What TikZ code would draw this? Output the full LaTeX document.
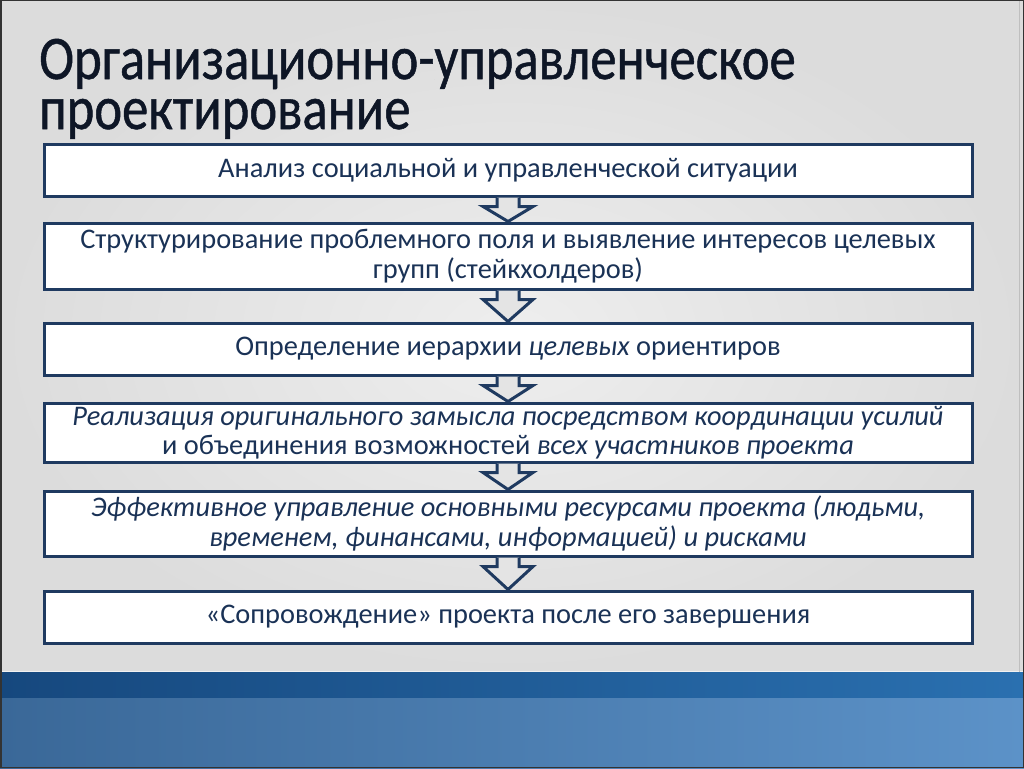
\documentclass[tikz,border=0pt]{standalone}
\usepackage{fontspec}
\setmainfont{Carlito}
\newfontfamily\titlefont[FakeStretch=0.85,FakeBold=0.8]{Carlito}
\usetikzlibrary{calc,shadows}
\definecolor{navy}{RGB}{31,58,96}
\definecolor{txt}{RGB}{26,50,86}
\definecolor{ttl}{RGB}{14,22,38}
\definecolor{bandA}{RGB}{22,72,126}
\definecolor{bandB}{RGB}{42,112,176}
\definecolor{bandC}{RGB}{58,104,152}
\definecolor{bandD}{RGB}{92,146,200}
\definecolor{bgin}{RGB}{238,238,238}
\definecolor{bgout}{RGB}{220,220,220}
\definecolor{arrowgray}{RGB}{228,228,228}
\tikzset{
  stagebox/.style={draw=navy, line width=3pt, fill=white, minimum width=928pt,
    inner sep=0pt, text=txt, font=\fontsize{28.4}{29.5}\selectfont, align=center,
    drop shadow={shadow xshift=2pt, shadow yshift=-2pt, opacity=0.3, fill=black}},
  arrowshape/.style={fill=arrowgray, draw=navy, line width=3pt, line join=miter},
  titletext/.style={anchor=base west, inner sep=0pt, align=left,
    font=\titlefont\fontsize{62}{50}\selectfont, text=ttl}
}
\newcommand{\flowarrow}[2]{%
  \filldraw[arrowshape] let \p1=(#1.south), \p2=(#2.north) in
   (\x1-11pt,\y1) -- (\x1-11pt,\y1-9pt) -- (\x1-25pt,\y1-9pt) -- (\x1,\y2)
   -- (\x1+25pt,\y1-9pt) -- (\x1+11pt,\y1-9pt) -- (\x1+11pt,\y1);}
\begin{document}
\begin{tikzpicture}[x=1pt,y=-1pt]
\useasboundingbox (0,0) rectangle (1024,768);
% background
\shade[inner color=bgin, outer color=bgout] (0,0) rectangle (1024,672);
\shade[left color=bandA, right color=bandB] (0,672) rectangle (1024,698);
\shade[left color=bandC, right color=bandD] (0,698) rectangle (1024,768);
\draw[white, opacity=0.6, line width=1pt] (0,671.5) -- (1024,671.5);
\draw[gray!50, line width=1pt] (1019,0) -- (1019,672);
\draw[black!80, line width=1.5pt] (0.75,0.75) rectangle (1023.25,767.25);
% title
\node[titletext] (title) at (39,129) {Организационно-управленческое\\[0pt]проектирование};
% boxes
\node[stagebox, minimum height=52pt] (b1) at (508,170) {Анализ социальной и управленческой ситуации};
\node[stagebox, minimum height=66pt] (b2) at (508,256) {Структурирование проблемного поля и выявление интересов целевых\\групп (стейкхолдеров)};
\node[stagebox, minimum height=52pt] (b3) at (508,349) {Определение иерархии \textit{целевых} ориентиров};
\node[stagebox, minimum height=59pt] (b4) at (508,432.5) {\textit{Реализация оригинального замысла посредством координации усилий}\\и объединения возможностей \textit{всех участников проекта}};
\node[stagebox, minimum height=65pt] (b5) at (508,523.5) {\textit{Эффективное управление основными ресурсами проекта (людьми,}\\\textit{временем, финансами, информацией) и рисками}};
\node[stagebox, minimum height=52pt] (b6) at (508,617) {«Сопровождение» проекта после его завершения};
% arrows
\flowarrow{b1}{b2}
\flowarrow{b2}{b3}
\flowarrow{b3}{b4}
\flowarrow{b4}{b5}
\flowarrow{b5}{b6}
\end{tikzpicture}
\end{document}
